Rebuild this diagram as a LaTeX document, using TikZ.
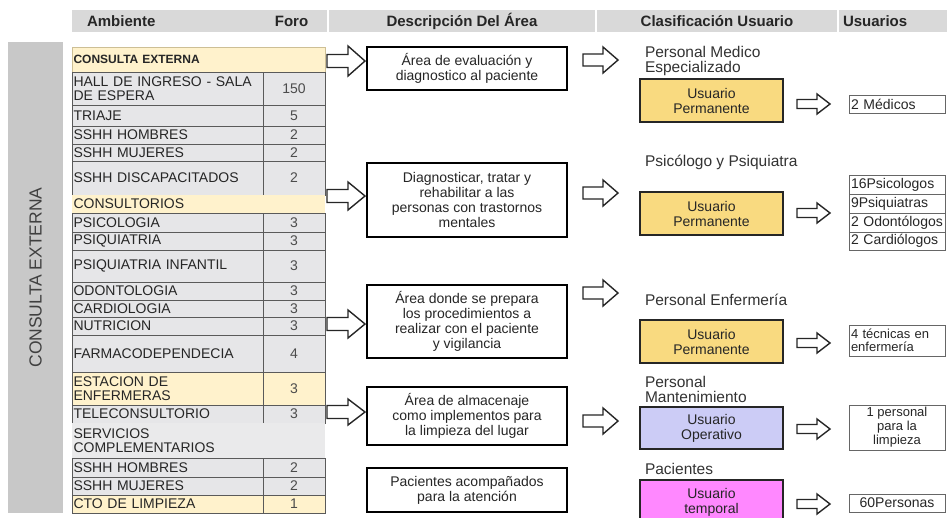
\documentclass[tikz,border=0pt]{standalone}
\usepackage{fontspec}
\setmainfont{Liberation Sans}
\definecolor{hdr}{HTML}{D9D9D9}
\definecolor{barc}{HTML}{C8C8C8}
\definecolor{cellgray}{HTML}{E6E6E8}
\definecolor{cellline}{HTML}{5A5A5A}
\definecolor{cream}{HTML}{FFF2CC}
\definecolor{creamline}{HTML}{CDBF95}
\definecolor{gold}{HTML}{F9DA80}
\definecolor{lav}{HTML}{CCCCF6}
\definecolor{pinkc}{HTML}{FF88FF}
\definecolor{txt}{HTML}{262626}
\newcommand\tabfont{\fontsize{14}{14.5}\selectfont}
\newcommand\descfont{\fontsize{14}{15}\selectfont}
\newcommand\barrow[6]{\draw[arrowline] (#1,{#3-#6}) -- ({#2-#4},{#3-#6}) -- ({#2-#4},{#3-#5}) -- (#2,#3) -- ({#2-#4},{#3+#5}) -- ({#2-#4},{#3+#6}) -- (#1,{#3+#6}) -- cycle;}
\begin{document}
\begin{tikzpicture}[x=1pt,y=-1pt,
  base/.style={inner sep=0pt, outer sep=0pt, text=txt},
  hcell/.style={base, anchor=north west, fill=hdr, minimum height=22, font=\bfseries\fontsize{15}{16}\selectfont},
  lc/.style={base, anchor=north west, draw=cellline, fill=cellgray, line width=0.7pt, inner xsep=1.5pt, align=left, text width=188, minimum width=191, font=\tabfont},
  vc/.style={base, anchor=north west, draw=cellline, fill=cellgray, line width=0.7pt, align=center, minimum width=62, font=\tabfont, text=black!70},
  full/.style={text width=250, minimum width=253},
  creamrow/.style={fill=cream},
  desc/.style={base, anchor=north west, draw=black, line width=1.3pt, fill=white, align=center, minimum width=200, font=\descfont},
  clab/.style={base, anchor=west, align=left, font=\fontsize{15.5}{15}\selectfont, text=black!80},
  cbox/.style={base, anchor=north west, draw=black!85, line width=1.2pt, align=center, minimum width=143, font=\descfont},
  ubox/.style={base, anchor=north west, draw=black!60, line width=0.6pt, fill=white, minimum width=96, font=\fontsize{14}{14}\selectfont},
  uleft/.style={align=left, text width=92, inner xsep=2pt},
  arrowline/.style={draw=black!85, line width=1.4pt, fill=white, line join=miter}
]
\useasboundingbox (0,0) rectangle (947,517);
\clip (0,0) rectangle (947,517);
\fill[white] (0,0) rectangle (947,517);

% header
\node[hcell, minimum width=182, align=left, text width=167, inner xsep=15pt] (h1) at (72,10) {Ambiente};
\node[hcell, minimum width=71] (h2) at (256,10) {Foro};
\node[hcell, minimum width=266] (h3) at (329,10) {Descripción Del Área};
\node[hcell, minimum width=240] (h4) at (597,10) {Clasificación Usuario};
\node[hcell, minimum width=108, align=left, text width=100, inner xsep=4pt] (h5) at (839,10) {Usuarios};

% left bar
\node[base, anchor=north west, fill=barc, minimum width=55, minimum height=471] (bar) at (8,42) {};
\node[base, rotate=90, font=\fontsize{17.5}{18}\selectfont, text=black!75] (bartxt) at (bar.center) {CONSULTA EXTERNA};

% table
\node[lc, full, creamrow, draw=creamline, minimum height=25, font=\bfseries\fontsize{12}{13}\selectfont] (r1) at (72,47) {CONSULTA EXTERNA};
\node[lc, minimum height=33] (r2) at (72,72) {HALL DE INGRESO - SALA\\DE ESPERA};
\node[vc, minimum height=33] (r2v) at (263,72) {150};
\node[lc, minimum height=21] (r3) at (72,105) {TRIAJE};
\node[vc, minimum height=21] (r3v) at (263,105) {5};
\node[lc, minimum height=18] (r4) at (72,126) {SSHH HOMBRES};
\node[vc, minimum height=18] (r4v) at (263,126) {2};
\node[lc, minimum height=17] (r5) at (72,144) {SSHH MUJERES};
\node[vc, minimum height=17] (r5v) at (263,144) {2};
\node[lc, minimum height=34] (r6) at (72,161) {SSHH DISCAPACITADOS};
\node[vc, minimum height=34] (r6v) at (263,161) {2};
\node[lc, full, creamrow, draw=none, minimum height=18] (r7) at (72,195) {CONSULTORIOS};
\node[lc, minimum height=19] (r8) at (72,213) {PSICOLOGIA};
\node[vc, minimum height=19] (r8v) at (263,213) {3};
\node[lc, minimum height=18] (r9) at (72,232) {PSIQUIATRIA};
\node[vc, minimum height=18] (r9v) at (263,232) {3};
\node[lc, minimum height=32] (r10) at (72,250) {PSIQUIATRIA INFANTIL};
\node[vc, minimum height=32] (r10v) at (263,250) {3};
\node[lc, minimum height=18] (r11) at (72,282) {ODONTOLOGIA};
\node[vc, minimum height=18] (r11v) at (263,282) {3};
\node[lc, minimum height=17] (r12) at (72,300) {CARDIOLOGIA};
\node[vc, minimum height=17] (r12v) at (263,300) {3};
\node[lc, minimum height=18] (r13) at (72,317) {NUTRICION};
\node[vc, minimum height=18] (r13v) at (263,317) {3};
\node[lc, minimum height=37] (r14) at (72,335) {FARMACODEPENDECIA};
\node[vc, minimum height=37] (r14v) at (263,335) {4};
\node[lc, creamrow, minimum height=33] (r15) at (72,372) {ESTACION DE\\ENFERMERAS};
\node[vc, creamrow, minimum height=33] (r15v) at (263,372) {3};
\node[lc, minimum height=18] (r16) at (72,405) {TELECONSULTORIO};
\node[vc, minimum height=18] (r16v) at (263,405) {3};
\node[lc, full, draw=none, fill=cellgray!85, minimum height=35] (r17) at (72,423) {SERVICIOS\\COMPLEMENTARIOS};
\node[lc, minimum height=19] (r18) at (72,458) {SSHH HOMBRES};
\node[vc, minimum height=19] (r18v) at (263,458) {2};
\node[lc, minimum height=18] (r19) at (72,477) {SSHH MUJERES};
\node[vc, minimum height=18] (r19v) at (263,477) {2};
\node[lc, creamrow, minimum height=18] (r20) at (72,495) {CTO DE LIMPIEZA};
\node[vc, creamrow, minimum height=18] (r20v) at (263,495) {1};

% description boxes
\node[desc, minimum height=43] (d1) at (367,47) {Área de evaluación y\\diagnostico al paciente};
\node[desc, minimum height=74] (d2) at (367,163) {Diagnosticar, tratar y\\rehabilitar a las\\personas con trastornos\\mentales};
\node[desc, minimum height=73] (d3) at (367,285) {Área donde se prepara\\los procedimientos a\\realizar con el paciente\\y vigilancia};
\node[desc, minimum height=58] (d4) at (367,387) {Área de almacenaje\\como implementos para\\la limpieza del lugar};
\node[desc, minimum height=44] (d5) at (367,468) {Pacientes acompañados\\para la atención};

% arrows table -> description
\barrow{327}{365}{61}{17}{15}{6.5}
\barrow{327}{365}{196}{17}{14}{6.5}
\barrow{327}{365}{324}{17}{14}{6.5}
\barrow{327}{365}{412}{17}{13}{6.5}

% arrows description -> classification
\barrow{583}{618}{60}{15}{13}{6}
\barrow{583}{618}{193}{15}{13}{6}
\barrow{583}{618}{293}{15}{13}{6}
\barrow{583}{618}{421}{15}{13}{6}

% classification
\node[clab] (c1) at (645,60.5) {Personal Medico\\Especializado};
\node[cbox, fill=gold, minimum height=43] (k1) at (640,79) {Usuario\\Permanente};
\node[clab] (c2) at (645,162) {Psicólogo y Psiquiatra};
\node[cbox, fill=gold, minimum height=43] (k2) at (640,192) {Usuario\\Permanente};
\node[clab] (c3) at (645,300) {Personal Enfermería};
\node[cbox, fill=gold, minimum height=43] (k3) at (640,320) {Usuario\\Permanente};
\node[clab] (c4) at (645,389.5) {Personal\\Mantenimiento};
\node[cbox, fill=lav, minimum height=42] (k4) at (640,407) {Usuario\\Operativo};
\node[clab] (c5) at (645,469) {Pacientes};
\node[cbox, fill=pinkc, minimum height=45] (k5) at (640,480) {Usuario\\temporal};

% arrows classification -> users
\barrow{797}{830}{104}{13}{10}{4.5}
\barrow{797}{830}{213}{13}{10}{4.5}
\barrow{797}{830}{343}{13}{10}{4.5}
\barrow{797}{830}{429}{13}{10}{4.5}
\barrow{797}{830}{504}{13}{10}{4.5}

% users
\node[ubox, uleft, minimum height=18] (u1) at (849,95) {2 Médicos};
\node[ubox, uleft, minimum height=19] (u2a) at (849,175) {16Psicologos};
\node[ubox, uleft, minimum height=19] (u2b) at (849,194) {9Psiquiatras};
\node[ubox, uleft, minimum height=19] (u2c) at (849,213) {2 Odontólogos};
\node[ubox, uleft, minimum height=18] (u2d) at (849,232) {2 Cardiólogos};
\node[ubox, uleft, minimum height=31, font=\fontsize{13}{13}\selectfont] (u3) at (849,325) {4 técnicas en\\enfermería};
\node[ubox, align=center, minimum height=45, font=\fontsize{13}{14}\selectfont] (u4) at (849,405) {1 personal\\para la\\limpieza};
\node[ubox, align=center, minimum height=18] (u5) at (849,494) {60Personas};
\end{tikzpicture}
\end{document}
